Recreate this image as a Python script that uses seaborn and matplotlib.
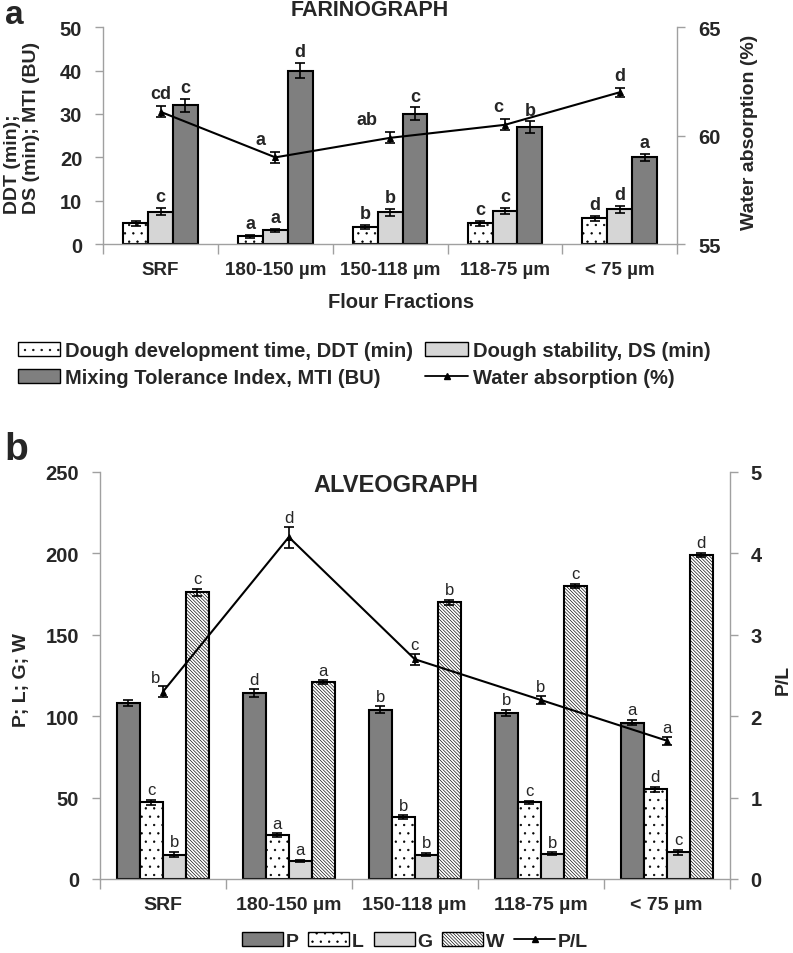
import numpy as np
import pandas as pd
import matplotlib
matplotlib.use('Agg')
import matplotlib.pyplot as plt
import seaborn as sns
from matplotlib.patches import Patch
from matplotlib.lines import Line2D

fractions = ['SRF', '180-150 µm', '150-118 µm', '118-75 µm', '< 75 µm']

# farinograph
ddt = [4.8, 1.8, 4.0, 4.8, 6.0]
ddt_err = [0.5, 0.3, 0.5, 0.5, 0.6]
ddt_let = ['', 'a', 'b', 'c', 'd']
ds = [7.5, 3.2, 7.3, 7.6, 8.0]
ds_err = [0.8, 0.3, 0.8, 0.7, 0.8]
ds_let = ['c', 'a', 'b', 'c', 'd']
mti = [32, 40, 30, 27, 20]
mti_err = [1.5, 1.8, 1.5, 1.3, 0.8]
mti_let = ['c', 'd', 'c', 'b', 'a']
wa = [61.1, 59.0, 59.9, 60.5, 62.0]
wa_err = [0.25, 0.25, 0.25, 0.25, 0.2]
wa_let = ['cd', 'a', 'ab', 'c', 'd']

# alveograph
p = [108, 114, 104, 102, 96]
p_err = [2, 2.5, 2, 2, 1.5]
p_let = ['', 'd', 'b', 'b', 'a']
l = [47, 27, 38, 47, 55]
l_err = [1.5, 1, 1, 1, 1.5]
l_let = ['c', 'a', 'b', 'c', 'd']
g = [15, 11, 15, 15.5, 16.5]
g_err = [1.5, 0.8, 0.8, 0.8, 1.5]
g_let = ['b', 'a', 'b', 'b', 'c']
w = [176, 121, 170, 180, 199]
w_err = [2, 1, 1.5, 1.5, 1.5]
w_let = ['c', 'a', 'b', 'c', 'd']
pl = [2.3, 4.2, 2.7, 2.2, 1.7]
pl_err = [0.07, 0.13, 0.07, 0.05, 0.05]
pl_let = ['b', 'd', 'c', 'b', 'a']

a_names = ['Dough development time, DDT (min)', 'Dough stability, DS (min)',
           'Mixing Tolerance Index, MTI (BU)']
b_names = ['P', 'L', 'G', 'W']

sns.set_style('ticks')
plt.rcParams['font.family'] = ['Liberation Sans', 'DejaVu Sans']
plt.rcParams['font.weight'] = 'bold'
plt.rcParams['hatch.linewidth'] = 0.45

DARK = '#7f7f7f'
LIGHT = '#d6d6d6'
SPINE = '#a0a0a0'
DOTS = '..'
DIAG = '\\' * 10

fig = plt.figure(figsize=(7.93, 9.54), dpi=100)
ax1 = fig.add_axes([0.130, 0.743, 0.724, 0.2275])
ax3 = fig.add_axes([0.126, 0.0776, 0.794, 0.4266])


def decorate(ax, containers, errs, lets, fs, weight):
    for cont, err, lab in zip(containers, errs, lets):
        xs = [b.get_x() + b.get_width() / 2 for b in cont]
        hs = [b.get_height() for b in cont]
        ax.errorbar(xs, hs, yerr=err, fmt='none', ecolor='black',
                    elinewidth=1.2, capsize=3.5, capthick=1.2)
        for x, h, e, t in zip(xs, hs, err, lab):
            ax.annotate(t, (x, h + e), xytext=(0, 2), textcoords='offset points',
                        ha='center', va='bottom', fontsize=fs, fontweight=weight)


def style_axes(ax, axr, xfs):
    ax.set_xlim(-0.5, 4.5)
    ax.set_xticks(np.arange(-0.5, 5, 1), [''] * 6)
    ax.set_xticks(np.arange(5), fractions, minor=True)
    ax.tick_params(axis='x', which='major', length=7, color=SPINE, width=1)
    ax.tick_params(axis='x', which='minor', length=0, pad=12, labelsize=xfs)
    ax.tick_params(axis='y', length=6, color=SPINE, width=1, labelsize=14.5, pad=9)
    axr.tick_params(axis='y', length=6, color=SPINE, width=1, labelsize=14.5, pad=9)
    for a in (ax, axr):
        a.spines['top'].set_visible(False)
        for s in ('left', 'right', 'bottom'):
            a.spines[s].set_color(SPINE)
            a.spines[s].set_linewidth(1)
    ax.spines['right'].set_visible(False)
    axr.spines['left'].set_visible(False)
    axr.spines['bottom'].set_visible(False)
    ax.set_xlabel('')
    ax.set_ylabel('')
    axr.set_ylabel('')


# ---- panel a: farinograph
df_a = pd.DataFrame({'fraction': fractions * 3,
                     'param': np.repeat(a_names, 5),
                     'value': ddt + ds + mti})
sns.barplot(data=df_a, x='fraction', y='value', hue='param', hue_order=a_names,
            palette=['white', LIGHT, DARK], width=0.65, errorbar=None,
            edgecolor='black', linewidth=1.5, legend=False, ax=ax1)
for bar in ax1.containers[0]:
    bar.set_hatch(DOTS)
decorate(ax1, ax1.containers, [ddt_err, ds_err, mti_err],
         [ddt_let, ds_let, mti_let], 13, 'bold')
ax1.set_ylim(0, 50)
ax1.set_yticks(range(0, 51, 10))

ax1r = ax1.twinx()
xs = np.arange(len(fractions))
sns.lineplot(x=xs, y=wa, ax=ax1r, color='black', marker='^', markersize=5,
             markeredgecolor='black', linewidth=1.5, legend=False)
ax1r.errorbar(xs, wa, yerr=wa_err, fmt='none', ecolor='black',
              elinewidth=1.2, capsize=3.5, capthick=1.2)
wa_dx = [0, -0.13, -0.2, -0.06, 0]
for x, v, e, t, dx in zip(xs, wa, wa_err, wa_let, wa_dx):
    ax1r.annotate(t, (x + dx, v + e), xytext=(0, 3), textcoords='offset points',
                  ha='center', va='bottom', fontsize=13, fontweight='bold')
ax1r.set_ylim(55, 65)
ax1r.set_yticks([55, 60, 65])
style_axes(ax1, ax1r, 13.5)

# ---- panel b: alveograph
df_b = pd.DataFrame({'fraction': fractions * 4,
                     'param': np.repeat(b_names, 5),
                     'value': p + l + g + w})
sns.barplot(data=df_b, x='fraction', y='value', hue='param', hue_order=b_names,
            palette=[DARK, 'white', LIGHT, 'white'], width=0.73, errorbar=None,
            edgecolor='black', linewidth=1.5, legend=False, ax=ax3)
for bar in ax3.containers[1]:
    bar.set_hatch(DOTS)
for bar in ax3.containers[3]:
    bar.set_hatch(DIAG)
decorate(ax3, ax3.containers, [p_err, l_err, g_err, w_err],
         [p_let, l_let, g_let, w_let], 12, 'normal')
ax3.set_ylim(0, 250)
ax3.set_yticks(range(0, 251, 50))

ax3r = ax3.twinx()
sns.lineplot(x=xs, y=pl, ax=ax3r, color='black', marker='^', markersize=5,
             markeredgecolor='black', linewidth=1.5, legend=False)
ax3r.errorbar(xs, pl, yerr=pl_err, fmt='none', ecolor='black',
              elinewidth=1.2, capsize=3.5, capthick=1.2)
pl_dx = [-0.06, 0, 0, 0, 0]
for x, v, e, t, dx in zip(xs, pl, pl_err, pl_let, pl_dx):
    ax3r.annotate(t, (x + dx, v + e), xytext=(0, 1), textcoords='offset points',
                  ha='center', va='bottom', fontsize=12, fontweight='normal')
ax3r.set_ylim(0, 5)
ax3r.set_yticks(range(0, 6))
style_axes(ax3, ax3r, 14)

# ---- texts
fig.text(370 / 793, 1 - 10 / 954, 'FARINOGRAPH', ha='center', va='center',
         fontsize=15.5, fontweight='bold')
fig.text(396 / 793, 1 - 486 / 954, 'ALVEOGRAPH', ha='center', va='center',
         fontsize=17, fontweight='bold')
fig.text(5 / 793, 1 - 24.5 / 954, 'a', fontsize=24, fontweight='bold', va='baseline')
fig.text(4 / 793, 1 - 460 / 954, 'b', fontsize=28, fontweight='bold', va='baseline')
fig.text(22 / 793, 1 - 128 / 954, 'DDT (min);\nDS (min); MTI (BU)', rotation=90,
         ha='center', va='center', multialignment='left', fontsize=14,
         fontweight='bold', linespacing=1.15)
fig.text(749 / 793, 1 - 132 / 954, 'Water absorption (%)', rotation=90,
         ha='center', va='center', fontsize=14, fontweight='bold')
fig.text(401 / 793, 1 - 303 / 954, 'Flour Fractions', ha='center', va='center',
         fontsize=14.5, fontweight='bold')
fig.text(22 / 793, 1 - 680 / 954, 'P; L; G; W', rotation=90, ha='center',
         va='center', fontsize=14, fontweight='bold')
fig.text(783 / 793, 1 - 680 / 954, 'P/L', rotation=90, ha='center',
         va='center', fontsize=14, fontweight='bold')

# ---- legends
line_h = Line2D([], [], color='black', marker='^', markersize=4, linewidth=1.3)
ha = [Patch(facecolor='white', edgecolor='black', hatch=DOTS),
      Patch(facecolor=DARK, edgecolor='black'),
      Patch(facecolor=LIGHT, edgecolor='black'),
      line_h]
la = [a_names[0], a_names[2], a_names[1], 'Water absorption (%)']
fig.legend(ha, la, ncol=2, loc='upper left', bbox_to_anchor=(18 / 793, 1 - 342 / 954),
           frameon=False, fontsize=14.5, handlelength=2.1, handleheight=0.65,
           handletextpad=0.25, columnspacing=0.6, labelspacing=0.4,
           borderpad=0, borderaxespad=0)

hb = [Patch(facecolor=DARK, edgecolor='black'),
      Patch(facecolor='white', edgecolor='black', hatch=DOTS),
      Patch(facecolor=LIGHT, edgecolor='black'),
      Patch(facecolor='white', edgecolor='black', hatch=DIAG),
      line_h]
fig.legend(hb, b_names + ['P/L'], ncol=5, loc='upper left',
           bbox_to_anchor=(242 / 793, 1 - 933 / 954), frameon=False, fontsize=14,
           handlelength=2.1, handleheight=0.7, handletextpad=0.15,
           columnspacing=0.5, borderpad=0, borderaxespad=0)

fig.savefig('out.png', dpi=100)
